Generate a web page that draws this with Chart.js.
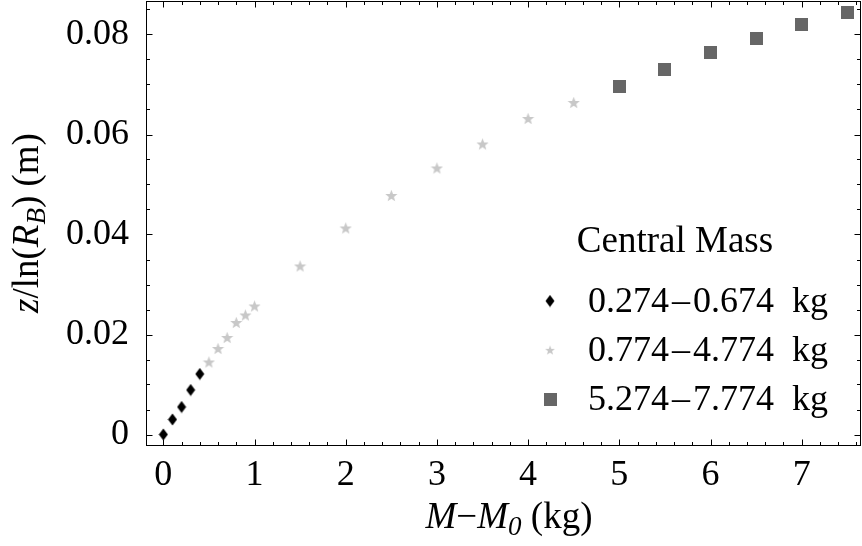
<!DOCTYPE html>
<html>
<head>
<meta charset="utf-8">
<script src="https://cdn.jsdelivr.net/npm/chart.js@4.4.0/dist/chart.umd.min.js"></script>
<style>
  html, body { margin: 0; padding: 0; background: #fff; }
  #wrap { width: 862px; height: 546px; position: relative; }
</style>
</head>
<body>
<div id="wrap"><canvas id="grafica"></canvas></div>
<script>
// M - M0 (kg) contra z/ln(R_B) (m)
const masa_baja = [0, 0.1, 0.2, 0.3, 0.4]
const z_baja = [0, 0.0030, 0.0055, 0.0089, 0.0121]
const masa_media = [0.5, 0.6, 0.7, 0.8, 0.9, 1.0, 1.5, 2.0, 2.5, 3.0, 3.5, 4.0, 4.5]
const z_media = [0.0145, 0.0172, 0.0194, 0.0224, 0.0239, 0.0257, 0.0337, 0.0413, 0.0478, 0.0533, 0.0581, 0.0632, 0.0664]
const masa_alta = [5.0, 5.5, 6.0, 6.5, 7.0, 7.5]
const z_alta = [0.0696, 0.0730, 0.0764, 0.0792, 0.0820, 0.0844]

const etiquetas_series = ['0.274\u200A–\u200A0.674\u2002kg', '0.774\u200A–\u200A4.774\u2002kg', '5.274\u200A–\u200A7.774\u2002kg']
const titulo_leyenda = 'Central Mass'

const ticks_x = [0, 1, 2, 3, 4, 5, 6, 7]
const textos_x = ['0', '1', '2', '3', '4', '5', '6', '7']
const ticks_y = [0, 0.02, 0.04, 0.06, 0.08]
const textos_y = ['0', '0.02', '0.04', '0.06', '0.08']
const paso_menor_x = 0.2
const paso_menor_y = 0.005

const FUENTE = '"Liberation Serif", "Times New Roman", serif'

// marcadores propios (rombo, estrella, cuadrado)
function marcador(w, h, dibujar) {
    const c = document.createElement('canvas')
    c.width = w; c.height = h
    dibujar(c.getContext('2d'), w, h)
    return c
}
const rombo = marcador(10, 13, (g, w, h) => {
    g.fillStyle = '#000'
    g.beginPath()
    g.moveTo(w / 2, 0.5); g.lineTo(w - 0.5, h / 2); g.lineTo(w / 2, h - 0.5); g.lineTo(0.5, h / 2)
    g.closePath(); g.fill()
})
const estrella = marcador(13, 13, (g, w, h) => {
    g.fillStyle = 'rgb(200,200,200)'
    g.beginPath()
    for (let i = 0; i < 10; i++) {
        const r = i % 2 === 0 ? 6.4 : 2.7
        const a = -Math.PI / 2 + i * Math.PI / 5
        const px = w / 2 + r * Math.cos(a), py = h / 2 + 0.6 + r * Math.sin(a)
        i === 0 ? g.moveTo(px, py) : g.lineTo(px, py)
    }
    g.closePath(); g.fill()
})
const cuadro = marcador(13, 13, (g, w, h) => {
    g.fillStyle = '#666'
    g.fillRect(0, 0, w, h)
})

const puntos = (xs, ys) => xs.map((m, i) => ({ x: m, y: ys[i] }))

function esMayor(v, lista) {
    return lista.some(t => Math.abs(t - v) < 1e-9)
}

function construirTicks(scale, paso, mayores) {
    const lista = []
    const n0 = Math.ceil(scale.min / paso - 1e-9)
    const n1 = Math.floor(scale.max / paso + 1e-9)
    for (let n = n0; n <= n1; n++) {
        const v = Math.round(n * paso * 1e6) / 1e6
        lista.push({ value: v, major: esMayor(v, mayores) })
    }
    scale.ticks = lista
}

function sinRelleno(s) {
    s.paddingTop = 0; s.paddingBottom = 0; s.paddingLeft = 0; s.paddingRight = 0
}

// texto con cursiva y subindices
function fuenteTramo(t) {
    return (t.it ? 'italic ' : '') + (t.sub ? 27 : 37) + 'px ' + FUENTE
}
function textoRico(ctx, tramos, centro, base, vertical) {
    let total = 0
    tramos.forEach(t => { ctx.font = fuenteTramo(t); t.w = ctx.measureText(t.t).width; total += t.w })
    ctx.save()
    if (vertical) { ctx.translate(base, centro); ctx.rotate(-Math.PI / 2) }
    else ctx.translate(centro, base)
    ctx.fillStyle = '#000'
    ctx.textBaseline = 'alphabetic'
    ctx.textAlign = 'left'
    let pos = -total / 2
    tramos.forEach(t => {
        ctx.font = fuenteTramo(t)
        ctx.fillText(t.t, pos, t.sub ? 7 : 0)
        pos += t.w
    })
    ctx.restore()
}

const marco = {
    id: 'marco',
    afterDraw(chart) {
        const { ctx, chartArea: a, scales: { x, y } } = chart
        ctx.save()
        ctx.strokeStyle = '#000'
        ctx.lineWidth = 1
        const L = a.left - 0.5, R = a.right - 0.5, T = a.top - 0.5, B = a.bottom - 0.5
        ctx.strokeRect(L, T, R - L, B - T)
        ctx.beginPath()
        x.ticks.forEach(t => {
            const px = Math.round(x.getPixelForValue(t.value)) + 0.5
            const len = t.major ? 6 : 3.5
            ctx.moveTo(px, B); ctx.lineTo(px, B - len)
            ctx.moveTo(px, T); ctx.lineTo(px, T + len)
        })
        y.ticks.forEach(t => {
            const py = Math.round(y.getPixelForValue(t.value)) + 0.5
            const len = t.major ? 6 : 3.5
            ctx.moveTo(L, py); ctx.lineTo(L + len, py)
            ctx.moveTo(R, py); ctx.lineTo(R - len, py)
        })
        ctx.stroke()

        // titulos de los ejes
        textoRico(ctx, [
            { t: 'M', it: true }, { t: '−' }, { t: 'M', it: true }, { t: '0', it: true, sub: true }, { t: ' (kg)' }
        ], 509, 528, false)
        textoRico(ctx, [
            { t: 'z', it: true }, { t: '/ln(' }, { t: 'R', it: true }, { t: 'B', it: true, sub: true }, { t: ') (m)' }
        ], 223, 38, true)

        // leyenda
        ctx.fillStyle = '#000'
        ctx.font = '37px ' + FUENTE
        ctx.textAlign = 'center'
        ctx.textBaseline = 'alphabetic'
        ctx.fillText(titulo_leyenda, 675, 252)
        ctx.font = '36px ' + FUENTE
        ctx.textAlign = 'left'
        chart.data.datasets.forEach((ds, i) => {
            const base = 312 + i * 49
            const img = ds.pointStyle
            const esc = i === 1 ? 0.8 : 1
            const w = img.width * esc, h = img.height * esc
            ctx.drawImage(img, 550 - w / 2, base - 11 - h / 2, w, h)
            ctx.fillText(ds.label, 588, base)
        })
        ctx.restore()
    }
}

const grafica = document.getElementById('grafica').getContext('2d')

new Chart(grafica, {
    type: 'scatter',
    data: {
        datasets: [
            { label: etiquetas_series[0], data: puntos(masa_baja, z_baja), pointStyle: rombo, pointRadius: 6 },
            { label: etiquetas_series[1], data: puntos(masa_media, z_media), pointStyle: estrella, pointRadius: 6 },
            { label: etiquetas_series[2], data: puntos(masa_alta, z_alta), pointStyle: cuadro, pointRadius: 6 }
        ]
    },
    options: {
        responsive: true,
        maintainAspectRatio: false,
        animation: false,
        devicePixelRatio: 1,
        layout: { autoPadding: false, padding: { top: 2, right: 1, left: 0, bottom: 0 } },
        scales: {
            x: {
                type: 'linear',
                min: -0.179,
                max: 7.65,
                afterBuildTicks: s => construirTicks(s, paso_menor_x, ticks_x),
                afterFit: s => { s.height = 100; sinRelleno(s) },
                grid: { display: false, drawTicks: false },
                border: { display: false },
                ticks: {
                    autoSkip: false,
                    maxRotation: 0,
                    padding: 8,
                    color: '#000',
                    font: { family: FUENTE, size: 36 },
                    callback: v => {
                        const i = ticks_x.findIndex(t => Math.abs(t - v) < 1e-9)
                        return i >= 0 ? textos_x[i] : ''
                    }
                }
            },
            y: {
                type: 'linear',
                min: -0.0023,
                max: 0.0865,
                afterBuildTicks: s => construirTicks(s, paso_menor_y, ticks_y),
                afterFit: s => { s.width = 147; sinRelleno(s) },
                grid: { display: false, drawTicks: false },
                border: { display: false },
                ticks: {
                    autoSkip: false,
                    padding: 18,
                    color: '#000',
                    font: { family: FUENTE, size: 36 },
                    callback: v => {
                        const i = ticks_y.findIndex(t => Math.abs(t - v) < 1e-9)
                        return i >= 0 ? textos_y[i] : ''
                    }
                }
            }
        },
        plugins: {
            legend: { display: false },
            tooltip: { enabled: false }
        }
    },
    plugins: [marco]
});
</script>
</body>
</html>
